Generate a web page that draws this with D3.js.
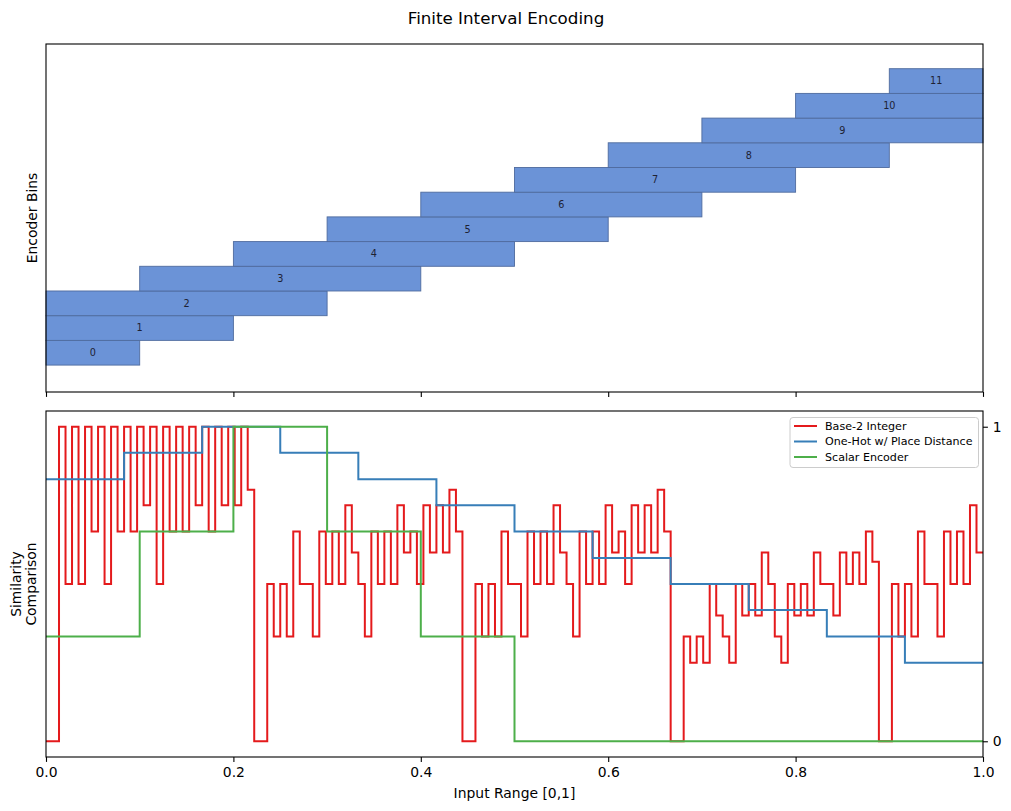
<!DOCTYPE html>
<html>
<head>
  <meta charset="utf-8">
  <title>Finite Interval Encoding</title>
  <style>
    body { margin: 0; background: #fff; }
    text { font-family: "DejaVu Sans", sans-serif; }
  </style>
</head>
<body>
  <div id="chart"></div>

  <script src="https://cdn.jsdelivr.net/npm/d3@7/dist/d3.min.js"></script>
  <script>
    // encoder bins: start / end on the input range
    let binLabels = ['0', '1', '2', '3', '4', '5', '6', '7', '8', '9', '10', '11'];
    let binStart = [0, 0, 0, 0.1, 0.2, 0.3, 0.4, 0.5, 0.6, 0.7, 0.8, 0.9];
    let binEnd   = [0.1, 0.2, 0.3, 0.4, 0.5, 0.6, 0.7, 0.8, 0.9, 1.0, 1.0, 1.0];

    // similarity series, one value per equal-width step over [0,1]
    let base2Sim = [
      0, 0, 1, 0.5, 1, 0.5, 1, 0.667, 1, 0.5, 1, 0.667, 1, 0.667, 1, 0.75,
      1, 0.5, 1, 0.667, 1, 0.667, 1, 0.75, 1, 0.667, 1, 0.75, 1, 0.75, 1, 0.8,
      0, 0, 0.5, 0.333, 0.5, 0.333, 0.667, 0.5, 0.5, 0.333, 0.667, 0.5, 0.667, 0.5, 0.75, 0.6,
      0.5, 0.333, 0.667, 0.5, 0.667, 0.5, 0.75, 0.6, 0.667, 0.5, 0.75, 0.6, 0.75, 0.6, 0.8, 0.667,
      0, 0, 0.5, 0.333, 0.5, 0.333, 0.667, 0.5, 0.5, 0.333, 0.667, 0.5, 0.667, 0.5, 0.75, 0.6,
      0.5, 0.333, 0.667, 0.5, 0.667, 0.5, 0.75, 0.6, 0.667, 0.5, 0.75, 0.6, 0.75, 0.6, 0.8, 0.667,
      0, 0, 0.333, 0.25, 0.333, 0.25, 0.5, 0.4, 0.333, 0.25, 0.5, 0.4, 0.5, 0.4, 0.6, 0.5,
      0.333, 0.25, 0.5, 0.4, 0.5, 0.4, 0.6, 0.5, 0.5, 0.4, 0.6, 0.5, 0.6, 0.5, 0.667, 0.571,
      0, 0, 0.5, 0.333, 0.5, 0.333, 0.667, 0.5, 0.5, 0.333, 0.667, 0.5, 0.667, 0.5, 0.75, 0.6
    ];
    let oneHotSim = [0.833, 0.917, 1, 0.917, 0.833, 0.75, 0.667, 0.583, 0.5, 0.417, 0.333, 0.25];
    let scalarSim = [0.333, 0.667, 1, 0.667, 0.333, 0, 0, 0, 0, 0];

    let seriesNames = ['Base-2 Integer', 'One-Hot w/ Place Distance', 'Scalar Encoder'];
    let seriesColors = ['#e41a1c', '#377eb8', '#4daf4a'];

    let xTicks = [0, 0.2, 0.4, 0.6, 0.8, 1.0];
    let simTicks = [0, 1];

    function translate(x, y) {
      return 'translate(' + x + ',' + y + ')';
    }

    let svgWidth = 1011, svgHeight = 811;
    let left = 46, right = 983;
    let top1 = 44, bottom1 = 392;
    let top2 = 411, bottom2 = 757;

    let svg = d3.select('#chart')
      .append('svg')
        .attr('width', svgWidth)
        .attr('height', svgHeight);

    let x = d3.scaleLinear().domain([0, 1]).range([left, right]);
    let yBin = d3.scaleLinear().domain([-1.59, 12.5]).range([bottom1, top1]);
    let ySim = d3.scaleLinear().domain([-0.05, 1.05]).range([bottom2, top2]);

    // title
    svg.append('text')
      .attr('x', 506).attr('y', 24)
      .attr('text-anchor', 'middle')
      .style('font-size', '16.7px')
      .text('Finite Interval Encoding');

    // ---- top panel: bins ----
    let bins = binLabels.map((d, i) => ({ label: d, i: i, start: binStart[i], end: binEnd[i] }));

    svg.append('g').selectAll('rect')
      .data(bins)
      .enter()
        .append('rect')
        .attr('x', d => x(d.start))
        .attr('y', d => yBin(d.i + 0.5))
        .attr('width', d => x(d.end) - x(d.start))
        .attr('height', d => yBin(d.i - 0.5) - yBin(d.i + 0.5))
        .attr('fill', '#6b93d7')
        .attr('stroke', '#4f6b9e')
        .attr('stroke-width', 0.9);

    svg.append('g').selectAll('text')
      .data(bins)
      .enter()
        .append('text')
        .attr('x', d => x((d.start + d.end) / 2))
        .attr('y', d => yBin(d.i))
        .attr('dy', '0.35em')
        .attr('text-anchor', 'middle')
        .attr('fill', '#1e2233')
        .style('font-size', '9.7px')
        .text(d => d.label);

    // top x axis: ticks only
    svg.append('g')
      .attr('transform', translate(0, bottom1))
      .call(d3.axisBottom(x).tickValues(xTicks).tickSize(4.9).tickFormat(''))
      .call(g => g.select('.domain').remove())
      .selectAll('line').attr('stroke-width', 1.1);

    svg.append('rect')
      .attr('x', left).attr('y', top1)
      .attr('width', right - left).attr('height', bottom1 - top1)
      .attr('fill', 'none').attr('stroke', '#000').attr('stroke-width', 1.1);

    svg.append('text')
      .attr('transform', translate(37, (top1 + bottom1) / 2) + ' rotate(-90)')
      .attr('text-anchor', 'middle')
      .style('font-size', '13.9px')
      .text('Encoder Bins');

    // ---- bottom panel: similarity ----
    function stepPoints(vals) {
      let n = vals.length;
      let pts = vals.map((v, k) => [k / n, v]);
      pts.push([1, vals[n - 1]]);
      return pts;
    }

    let line = d3.line()
      .x(d => x(d[0]))
      .y(d => ySim(d[1]))
      .curve(d3.curveStepAfter);

    let allSeries = [base2Sim, oneHotSim, scalarSim];

    svg.append('g').selectAll('path')
      .data(allSeries)
      .enter()
        .append('path')
        .attr('d', d => line(stepPoints(d)))
        .attr('fill', 'none')
        .attr('stroke', (d, i) => seriesColors[i])
        .attr('stroke-width', 2)
        .attr('stroke-linejoin', 'miter');

    // bottom x axis
    let xAxis = svg.append('g')
      .attr('transform', translate(0, bottom2))
      .call(d3.axisBottom(x).tickValues(xTicks).tickSize(4.9).tickPadding(4.9).tickFormat(d3.format('.1f')));
    xAxis.select('.domain').remove();
    xAxis.selectAll('line').attr('stroke-width', 1.1);
    xAxis.selectAll('text')
      .style('font-size', '13.9px')
      .style('font-family', '"DejaVu Sans", sans-serif')
      .attr('fill', '#000');

    // right y axis
    let yAxis = svg.append('g')
      .attr('transform', translate(right, 0))
      .call(d3.axisRight(ySim).tickValues(simTicks).tickSize(4.9).tickPadding(4.9).tickFormat(d3.format('d')));
    yAxis.select('.domain').remove();
    yAxis.selectAll('line').attr('stroke-width', 1.1);
    yAxis.selectAll('text')
      .style('font-size', '13.9px')
      .style('font-family', '"DejaVu Sans", sans-serif')
      .attr('fill', '#000');

    svg.append('rect')
      .attr('x', left).attr('y', top2)
      .attr('width', right - left).attr('height', bottom2 - top2)
      .attr('fill', 'none').attr('stroke', '#000').attr('stroke-width', 1.1);

    svg.append('text')
      .attr('x', (left + right) / 2).attr('y', 798)
      .attr('text-anchor', 'middle')
      .style('font-size', '13.9px')
      .text('Input Range [0,1]');

    let ylab = svg.append('text')
      .attr('transform', translate(22, (top2 + bottom2) / 2) + ' rotate(-90)')
      .attr('text-anchor', 'middle')
      .style('font-size', '13.9px');
    ylab.append('tspan').attr('x', 0).attr('dy', '-0.1em').text('Similarity');
    ylab.append('tspan').attr('x', 0).attr('dy', '1.1em').text('Comparison');

    // legend
    let legend = svg.append('g').attr('transform', translate(790, 417.5));
    legend.append('rect')
      .attr('width', 188.5).attr('height', 50)
      .attr('rx', 3)
      .attr('fill', '#fff').attr('fill-opacity', 0.8)
      .attr('stroke', '#cccccc').attr('stroke-width', 1);

    let items = legend.selectAll('g.item')
      .data(seriesNames)
      .enter()
        .append('g')
        .attr('class', 'item')
        .attr('transform', (d, i) => translate(0, 8.5 + i * 15.5));
    items.append('line')
      .attr('x1', 4).attr('x2', 27)
      .attr('stroke', (d, i) => seriesColors[i])
      .attr('stroke-width', 2);
    items.append('text')
      .attr('x', 35).attr('dy', '0.35em')
      .style('font-size', '11.1px')
      .text(d => d);
  </script>
</body>
</html>
